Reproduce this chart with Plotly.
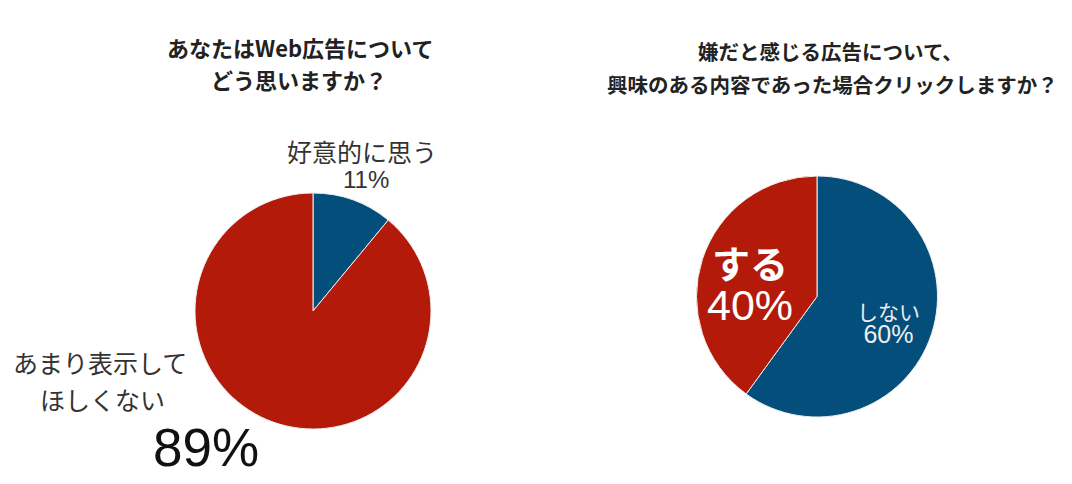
import plotly.graph_objects as go

# 左: Web広告についての印象
left_labels = ["好意的に思う", "あまり表示してほしくない"]
left_values = [11, 89]
left_title = ["あなたはWeb広告について", "どう思いますか？"]

# 右: 興味のある内容ならクリックするか
right_labels = ["しない", "する"]
right_values = [60, 40]
right_title = ["嫌だと感じる広告について、", "興味のある内容であった場合クリックしますか？"]

BLUE = "#044E7C"
RED = "#B41A0A"
W, H = 1072, 484
OFF = 8  # ページ余白ぶんずらす

LABEL_FONT = "Liberation Sans, Noto Sans CJK JP, sans-serif"
TITLE_FONT = "Noto Sans CJK JP, sans-serif"


def px(x):
    return (x - OFF) / W


def py(y):
    return 1 - (y - OFF) / H


fig = go.Figure()

fig.add_trace(go.Pie(
    labels=left_labels, values=left_values,
    marker=dict(colors=[BLUE, RED], line=dict(color="#eeeeee", width=1)),
    sort=False, direction="clockwise", rotation=0,
    textinfo="none", hoverinfo="label+percent",
    domain=dict(x=[px(195), px(431)], y=[py(429), py(193)]),
))

fig.add_trace(go.Pie(
    labels=right_labels, values=right_values,
    marker=dict(colors=[BLUE, RED], line=dict(color="#eeeeee", width=1)),
    sort=False, direction="clockwise", rotation=0,
    textinfo="none", hoverinfo="label+percent",
    domain=dict(x=[px(696), px(938)], y=[py(417), py(176)]),
))


def note(text, x, y, size, color="#333333", family=LABEL_FONT, bold=False):
    if bold:
        text = "<b>" + text + "</b>"
    fig.add_annotation(
        text=text, x=px(x), y=py(y), xref="paper", yref="paper",
        xanchor="center", yanchor="middle", showarrow=False,
        font=dict(size=size, color=color, family=family),
    )


def span(text, size, family=None, bold=False):
    style = f"font-size:{size}px"
    if family:
        style += f";font-family:{family}"
    if bold:
        style += ";font-weight:bold"
    return f"<span style='{style}'>{text}</span>"


# タイトル
note(left_title[0], 300, 47, 22, "#222222", TITLE_FONT, True)
note(left_title[1], 299, 79, 22, "#222222", TITLE_FONT, True)
note(right_title[0], 830, 51, 20.5, "#222222", TITLE_FONT, True)
note(right_title[1], 832, 84, 20.5, "#222222", TITLE_FONT, True)

# 左のラベル
note(left_labels[0], 362, 153, 25)
note(f"{left_values[0]}%", 366, 179, 24)
note(left_labels[1][:7], 100, 364, 25)
note(left_labels[1][7:], 102, 401, 25)
note(f"{left_values[1]}%", 206, 447, 53, "#111111")

# 右のラベル (行間を詰めるため1つの注釈にまとめる)
note(span(right_labels[1], 38, "Noto Sans CJK JP", True) + "<br>"
     + span(f"{right_values[1]}%", 43), 750, 281, 32, "white")
note(span(right_labels[0], 21) + "<br>"
     + span(f"{right_values[0]}%", 25), 888, 324, 17.7, "#eeeeee")

fig.update_layout(
    width=W, height=H,
    margin=dict(l=0, r=0, t=0, b=0),
    paper_bgcolor="white", plot_bgcolor="white",
    showlegend=False,
)

fig.write_html("out.html")
